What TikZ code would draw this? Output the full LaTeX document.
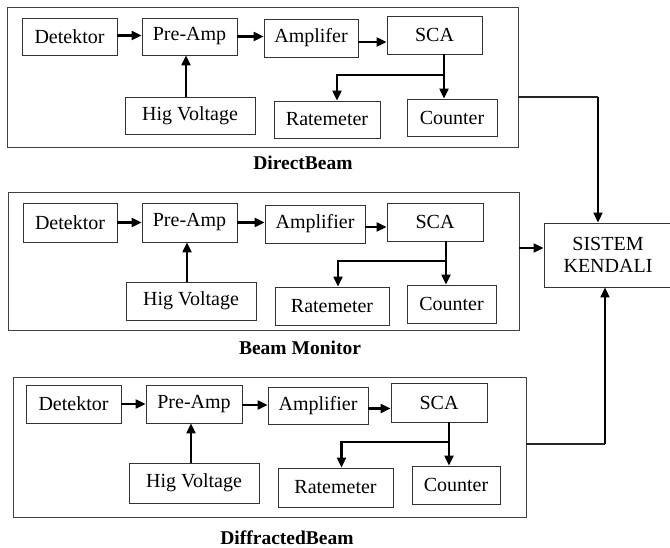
\documentclass[tikz,border=0pt]{standalone}
\usepackage{fontspec}
\setmainfont{Liberation Serif}
\usetikzlibrary{arrows.meta,calc}
\tikzset{
  box/.style={draw=black!80, line width=0.9pt, inner sep=0pt, font=\fontsize{20}{22}\selectfont},
  frame/.style={draw=black!75, line width=0.9pt, inner sep=0pt},
  arr/.style={line width=2.2pt, -{Triangle[length=10pt,width=9pt]}},
  outline/.style={line width=1.2pt, draw=black!85},
  outarr/.style={line width=2pt, -{Triangle[length=10pt,width=9pt]}},
  caption/.style={font=\fontsize{19.5}{22}\selectfont\bfseries}
}
\begin{document}
\begin{tikzpicture}[x=1pt,y=-1pt]
\useasboundingbox (0,0) rectangle (670,548);
% ---------- panel 1 ----------
\node[frame, minimum width=511, minimum height=140] (f1) at (262.5,77) {};
\node[box, minimum width=95, minimum height=37] (det1) at (69.5,36.5) {Detektor};
\node[box, minimum width=95, minimum height=37] (pre1) at (189.5,36.5) {Pre-Amp};
\node[box, minimum width=94, minimum height=38] (amp1) at (311,38) {Amplifer};
\node[box, minimum width=95, minimum height=38] (sca1) at (434.5,35) {SCA};
\node[box, minimum width=130, minimum height=37] (hv1) at (190,115.5) {Hig Voltage};
\node[box, minimum width=106, minimum height=37] (rate1) at (327,119.5) {Ratemeter};
\node[box, minimum width=90, minimum height=37] (cnt1) at (452,117.5) {Counter};
\node[caption] (c1) at (303,163) {DirectBeam};
\draw[arr] ([yshift=1pt]det1.east) -- ([yshift=1pt]det1.east -| pre1.west);
\draw[arr] (pre1.east) -- (pre1.east -| amp1.west);
\draw[arr] ([yshift=-4pt]amp1.east) -- ([yshift=-4pt]amp1.east -| sca1.west);
\draw[arr] ([xshift=-4pt]hv1.north) -- ([xshift=-4pt]hv1.north |- pre1.south);
\coordinate (b1) at (444,75);
\draw[arr] (sca1.south -| b1) -- (b1 |- cnt1.north);
\draw[arr] (b1) -| ([xshift=10pt]rate1.north);
% ---------- panel 2 ----------
\node[frame, minimum width=511, minimum height=138] (f2) at (263.5,261) {};
\node[box, minimum width=94, minimum height=39] (det2) at (70,222.5) {Detektor};
\node[box, minimum width=95, minimum height=39] (pre2) at (189.5,222.5) {Pre-Amp};
\node[box, minimum width=100, minimum height=38] (amp2) at (315,224) {Amplifier};
\node[box, minimum width=96, minimum height=38] (sca2) at (435,222) {SCA};
\node[box, minimum width=130, minimum height=38] (hv2) at (191,301) {Hig Voltage};
\node[box, minimum width=114, minimum height=38] (rate2) at (332,306) {Ratemeter};
\node[box, minimum width=89, minimum height=38] (cnt2) at (451.5,304) {Counter};
\node[caption] (c2) at (300,348) {Beam Monitor};
\draw[arr] (det2.east) -- (det2.east -| pre2.west);
\draw[arr] (pre2.east) -- (pre2.east -| amp2.west);
\draw[arr] ([yshift=-3pt]amp2.east) -- ([yshift=-3pt]amp2.east -| sca2.west);
\draw[arr] ([xshift=-4pt]hv2.north) -- ([xshift=-4pt]hv2.north |- pre2.south);
\coordinate (b2) at (446,261);
\draw[arr] (sca2.south -| b2) -- (b2 |- cnt2.north);
\draw[arr] (b2) -| ([xshift=6pt]rate2.north);
% ---------- panel 3 ----------
\node[frame, minimum width=513, minimum height=140] (f3) at (269.5,447) {};
\node[box, minimum width=95, minimum height=38] (det3) at (73.5,404) {Detektor};
\node[box, minimum width=96, minimum height=38] (pre3) at (194,404) {Pre-Amp};
\node[box, minimum width=100, minimum height=37] (amp3) at (318,405.5) {Amplifier};
\node[box, minimum width=96, minimum height=39] (sca3) at (439,402.5) {SCA};
\node[box, minimum width=130, minimum height=40] (hv3) at (194,483) {Hig Voltage};
\node[box, minimum width=115, minimum height=39] (rate3) at (335.5,487.5) {Ratemeter};
\node[box, minimum width=88, minimum height=38] (cnt3) at (456,485) {Counter};
\node[caption] (c3) at (287,538) {DiffractedBeam};
\draw[arr] (det3.east) -- (det3.east -| pre3.west);
\draw[arr] ([yshift=-1pt]pre3.east) -- ([yshift=-1pt]pre3.east -| amp3.west);
\draw[arr] ([yshift=-3pt]amp3.east) -- ([yshift=-3pt]amp3.east -| sca3.west);
\draw[arr] ([xshift=-3pt]hv3.north) -- ([xshift=-3pt]hv3.north |- pre3.south);
\coordinate (b3) at (449,442);
\draw[arr] (sca3.south -| b3) -- (b3 |- cnt3.north);
\draw[arr] (b3) -| ([xshift=6pt]rate3.north);
% ---------- control system ----------
\node[box, minimum width=128, minimum height=64, align=center] (sk) at (608,255) {SISTEM\\KENDALI};
\coordinate (o1) at (598,97);
\coordinate (o3) at (605,444);
\draw[outline] (f1.east |- o1) -- (o1);
\draw[outarr] (o1) -- (o1 |- sk.north);
\draw[outarr] (f2.east |- 0,248) -- (sk.west |- 0,248);
\draw[outline] (f3.east |- o3) -- (o3);
\draw[outarr] (o3) -- (o3 |- sk.south);
\end{tikzpicture}
\end{document}
